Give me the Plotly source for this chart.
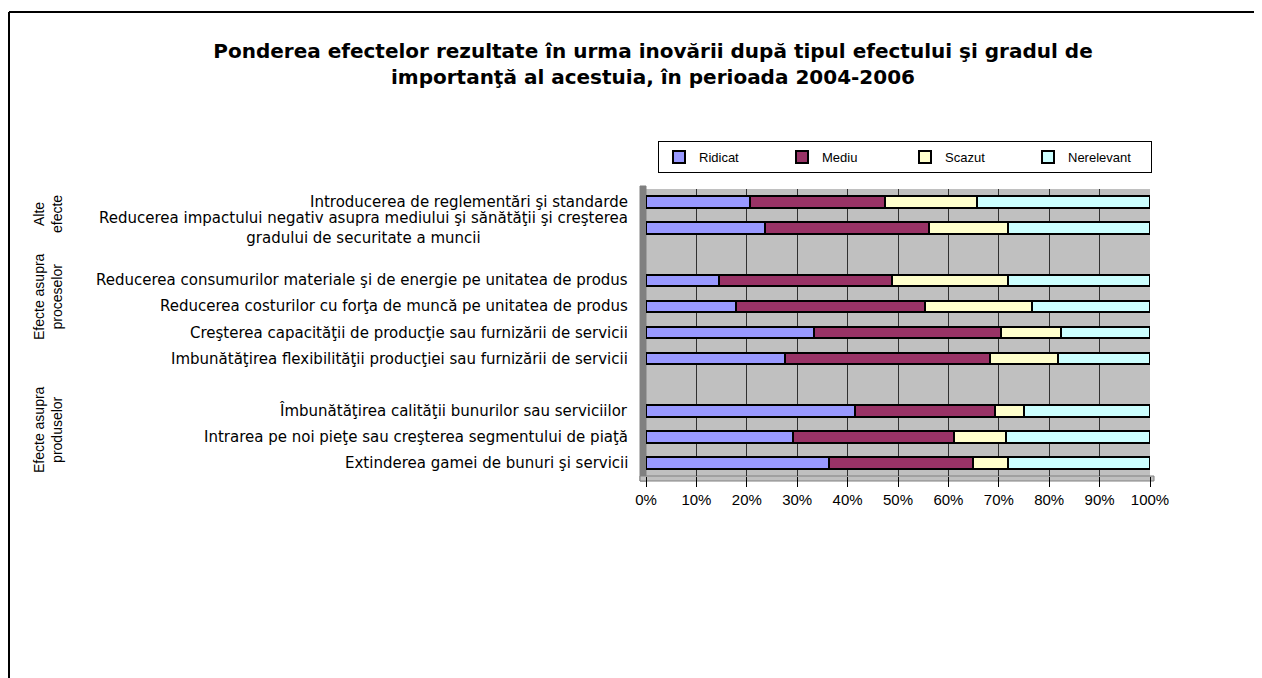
import plotly.graph_objects as go

# ---------------- data ----------------
categories = [
    "Introducerea de reglementări şi standarde",
    "Reducerea impactului negativ asupra mediului şi sănătăţii şi creşterea<br>gradului de securitate a muncii",
    None,
    "Reducerea consumurilor materiale şi de energie pe unitatea de produs",
    "Reducerea costurilor cu forţa de muncă pe unitatea de produs",
    "Creşterea capacităţii de producţie sau furnizării de servicii",
    "Imbunătăţirea flexibilităţii producţiei sau furnizării de servicii",
    None,
    "Îmbunătăţirea calităţii bunurilor sau serviciilor",
    "Intrarea pe noi pieţe sau creşterea segmentului de piaţă",
    "Extinderea gamei de bunuri şi servicii",
]
ridicat    = [20.7, 23.7, None, 14.5, 17.8, 33.4, 27.6, None, 41.5, 29.1, 36.4]
mediu      = [26.7, 32.4, None, 34.3, 37.6, 37.0, 40.6, None, 27.8, 32.1, 28.5]
scazut     = [18.2, 15.7, None, 23.0, 21.2, 11.9, 13.5, None, 5.7, 10.3, 7.0]
nerelevant = [34.4, 28.2, None, 28.2, 23.4, 17.7, 18.3, None, 25.0, 28.5, 28.1]

series_names = ["Ridicat", "Mediu", "Scazut", "Nerelevant"]
series_colors = ["#9999FF", "#993366", "#FFFFCC", "#CCFFFF"]

groups = ["Alte<br>efecte", "Efecte asupra<br>proceselor", "Efecte asupra<br>produselor"]

x_ticks = list(range(0, 101, 10))
x_tick_labels = [f"{v}%" for v in x_ticks]

title = ("Ponderea efectelor rezultate în urma inovării după tipul efectului şi gradul de<br>"
         "importanţă al acestuia, în perioada 2004-2006")

# ---------------- layout geometry (screen pixels) ----------------
OFF = 8                      # page body margin
W, H = 1262 - OFF, 678 - OFF
L, R, T, B = 646, 1150, 189, 476  # plot area on screen


def px(x):
    return (x - L) / (R - L)


def py(y):
    return (B - y) / (B - T)


n = len(categories)
ypos = [n - 1 - i for i in range(n)]

FONT = "Arial, Liberation Sans, sans-serif"
WIDE = "DejaVu Sans, sans-serif"

fig = go.Figure()
for name, vals, col in zip(series_names, [ridicat, mediu, scazut, nerelevant], series_colors):
    ys = [y for y, v in zip(ypos, vals) if v is not None]
    xs = [v for v in vals if v is not None]
    fig.add_trace(go.Bar(
        x=xs, y=ys, orientation="h", name=name,
        marker=dict(color=col, line=dict(color="black", width=2)),
        width=0.44,
    ))

annotations = []
for y, cat in zip(ypos, categories):
    if cat is None:
        continue
    annotations.append(dict(
        text=cat, x=px(630), xref="paper", y=y, yref="y",
        xanchor="right", yanchor="middle", align="center", showarrow=False,
        font=dict(family=WIDE, size=15, color="black"),
    ))

group_y = [214, 297, 430]
for g, gy in zip(groups, group_y):
    annotations.append(dict(
        text=g, x=px(48), xref="paper", y=py(gy), yref="paper",
        xanchor="center", yanchor="middle", align="center", showarrow=False,
        textangle=-90, font=dict(family=FONT, size=14, color="black"),
    ))

shapes = [
    # outer chart frame (cut by the screenshot at right and bottom)
    dict(type="line", xref="paper", yref="paper", x0=px(9), x1=px(1270), y0=py(12), y1=py(12),
         line=dict(color="black", width=2)),
    dict(type="line", xref="paper", yref="paper", x0=px(9), x1=px(9), y0=py(12), y1=py(690),
         line=dict(color="black", width=2)),
    # 3D side wall and floor
    dict(type="rect", xref="paper", yref="paper", x0=px(640), x1=px(646), y0=py(481), y1=py(T - 3),
         fillcolor="#808080", line=dict(color="#808080", width=1), layer="below"),
    dict(type="rect", xref="paper", yref="paper", x0=px(640), x1=px(1154), y0=py(481), y1=py(B),
         fillcolor="#C0C0C0", line=dict(color="#808080", width=1), layer="below"),
]

fig.update_layout(
    width=W, height=H,
    margin=dict(l=L - OFF, r=(OFF + W) - R, t=T - OFF, b=(OFF + H) - B, pad=0),
    paper_bgcolor="white", plot_bgcolor="#C0C0C0",
    barmode="stack", bargap=0,
    showlegend=True,
    title=dict(text=title, x=(653 - OFF) / W, xanchor="center",
               y=1 - (58 - OFF) / H, yanchor="middle",
               font=dict(family=WIDE, size=20, color="black", weight="bold")),
    legend=dict(orientation="h", x=px(658), xanchor="left", y=py(141), yanchor="top",
                bordercolor="black", borderwidth=1, bgcolor="white",
                traceorder="normal", entrywidth=78, entrywidthmode="pixels",
                itemwidth=30,
                font=dict(family=FONT, size=13, color="black")),
    xaxis=dict(range=[0, 100], tickvals=x_ticks, ticktext=x_tick_labels,
               showgrid=True, gridcolor="#303030", gridwidth=1,
               ticks="outside", ticklen=10, tickcolor="black",
               zeroline=False, showline=False,
               tickfont=dict(family=FONT, size=15, color="black")),
    yaxis=dict(range=[-0.5, n - 0.5], showticklabels=False, showgrid=False,
               zeroline=False, ticks=""),
    annotations=annotations,
    shapes=shapes,
)

fig.write_html("out.html")
